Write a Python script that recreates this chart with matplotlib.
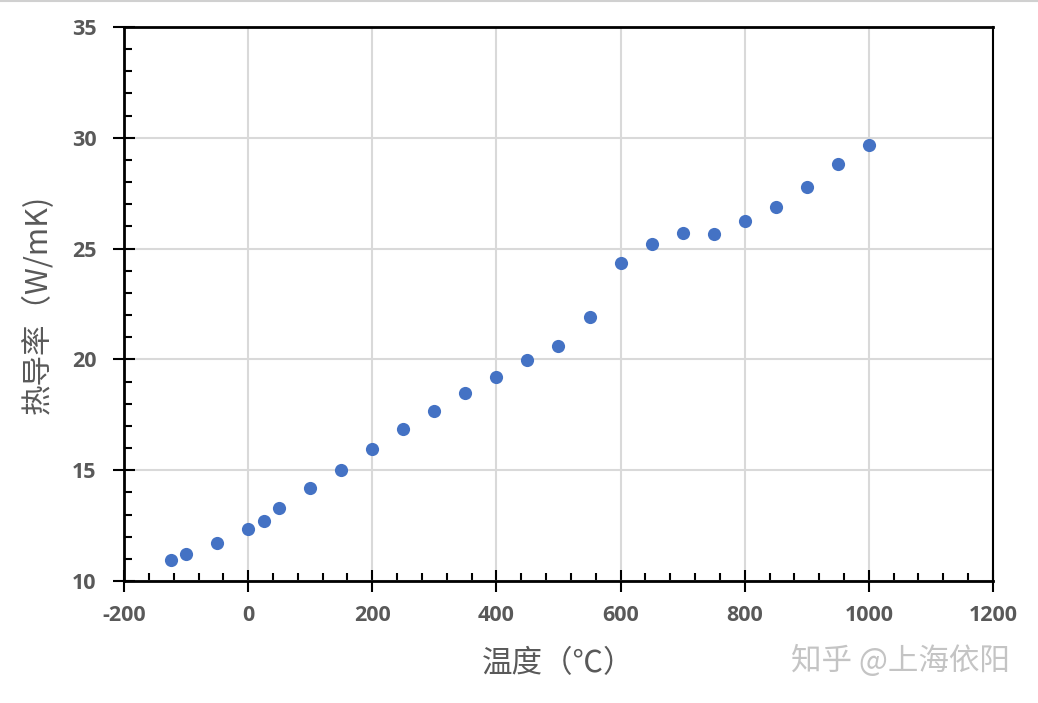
import numpy as np
import matplotlib.pyplot as plt
from matplotlib.ticker import MultipleLocator
from matplotlib.lines import Line2D

plt.rcParams['font.family'] = ['Noto Sans CJK SC', 'DejaVu Sans']
plt.rcParams['axes.unicode_minus'] = False

# data
temp_c = [-125, -100, -50, 0, 25, 50, 100, 150, 200, 250, 300, 350, 400,
          450, 500, 550, 600, 650, 700, 750, 800, 850, 900, 950, 1000]
conductivity = [10.95, 11.22, 11.71, 12.35, 12.71, 13.29, 14.2, 15.01, 15.96,
                16.86, 17.67, 18.48, 19.2, 19.97, 20.6, 21.91, 24.35, 25.21,
                25.7, 25.66, 26.25, 26.88, 27.78, 28.82, 29.67]

x_label = "温度（℃）"
y_label = "热导率（W/mK)"
watermark = "知乎 @上海依阳"

GRAY = "#595959"

fig = plt.figure(figsize=(10.38, 7.03), dpi=100)
ax = fig.add_axes([0.1195, 0.1735, 0.8371, 0.7881])

ax.grid(True, color="#d9d9d9", linewidth=1.5, zorder=0)
ax.scatter(temp_c, conductivity, s=90, color="#4472C4", zorder=3, linewidths=0)

ax.set_xlim(-200, 1200)
ax.set_ylim(10, 35)
ax.xaxis.set_major_locator(MultipleLocator(200))
ax.xaxis.set_minor_locator(MultipleLocator(40))
ax.yaxis.set_major_locator(MultipleLocator(5))
ax.yaxis.set_minor_locator(MultipleLocator(1))

for s in ax.spines.values():
    s.set_color("black")
ax.spines["left"].set_linewidth(2.0)
ax.spines["bottom"].set_linewidth(2.0)
ax.spines["top"].set_linewidth(2.0)
ax.spines["right"].set_linewidth(1.5)

ax.xaxis.set_ticks_position("bottom")
ax.yaxis.set_ticks_position("left")
ax.tick_params(which="major", direction="inout", length=16, width=1.5, color="black")
ax.tick_params(which="minor", direction="in", length=6, width=1.5, color="black")
ax.tick_params(axis="both", which="major", labelsize=15.5, labelcolor=GRAY)
ax.tick_params(axis="y", which="major", pad=12)
ax.tick_params(axis="x", which="major", pad=9)
for lbl in ax.get_xticklabels() + ax.get_yticklabels():
    lbl.set_fontweight("bold")
    lbl.set_family(["Open Sans", "DejaVu Sans"])

ax.set_xlabel(x_label, fontsize=22, color=GRAY, labelpad=16)
ax.set_ylabel(y_label, fontsize=22, color=GRAY, labelpad=13)

fig.text(0.867, 0.06, watermark, fontsize=22, color="#c4c4c4", ha="center", va="center")
fig.add_artist(Line2D([0, 1], [0.999, 0.999], transform=fig.transFigure,
                      color="#d0d0d0", linewidth=1.5))

fig.savefig("out.png", dpi=100)
